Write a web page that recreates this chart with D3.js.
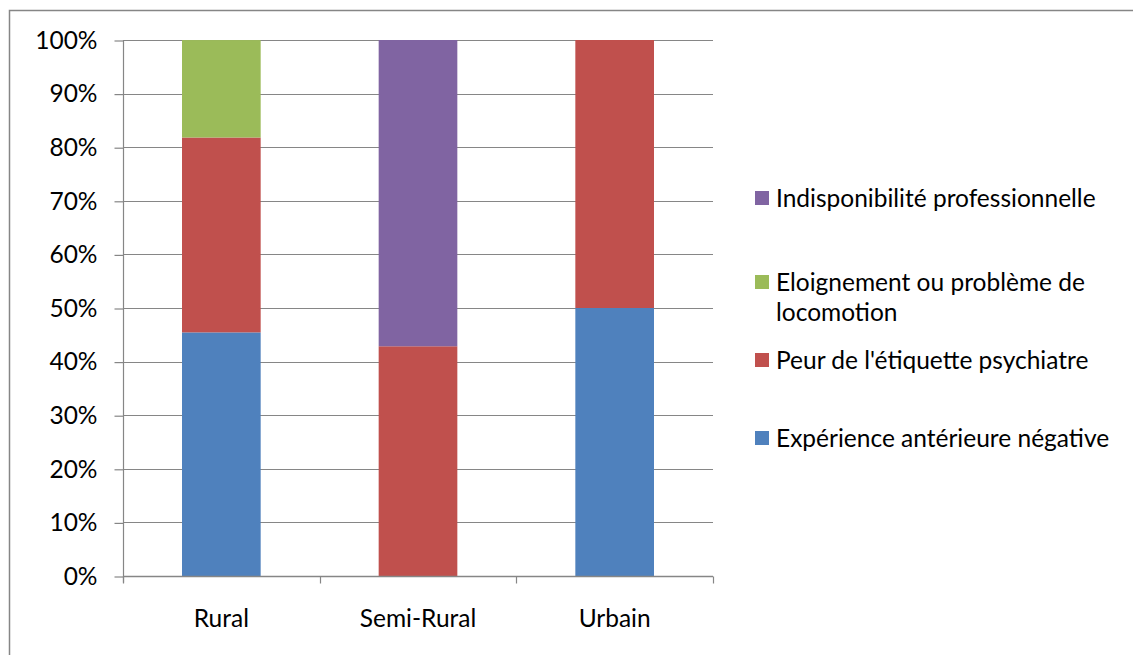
<!DOCTYPE html>
<html>
<head>
<meta charset="utf-8">
<script src="https://cdn.jsdelivr.net/npm/d3@7"></script>
<style>
  html, body { margin: 0; padding: 0; background: #fff; }
  svg { display: block; }
  text { font-family: Lato, "Open Sans", sans-serif; fill: #000; }
</style>
</head>
<body>
<svg id="chart" width="1133" height="655"></svg>
<script>
// ---- data ----
const categories = ["Rural", "Semi-Rural", "Urbain"];
const experienceNegative = [45.45, 0, 50];
const peurEtiquette = [36.36, 42.86, 50];
const eloignement = [18.18, 0, 0];
const indisponibilite = [0, 57.14, 0];
const yTicks = [0, 10, 20, 30, 40, 50, 60, 70, 80, 90, 100];

const seriesNames = [
  "Expérience antérieure négative",
  "Peur de l'étiquette psychiatre",
  "Eloignement ou problème de locomotion",
  "Indisponibilité professionnelle"
];
const seriesValues = [experienceNegative, peurEtiquette, eloignement, indisponibilite];
const seriesColors = ["#4F81BD", "#C0504D", "#9BBB59", "#8064A2"];

(function () {
const rows = categories.map((c, i) => {
  const r = { cat: c };
  seriesNames.forEach((n, k) => r[n] = seriesValues[k][i]);
  return r;
});

const svg = d3.select("#chart");
const FS = 24.5;
const gray = "#868686";

svg.append("rect").attr("x", 0).attr("y", 0).attr("width", 1133).attr("height", 655).attr("fill", "#fff");
// outer frame (top + left visible)
svg.append("rect").attr("x", 9.5).attr("y", 10.5).attr("width", 1200).attr("height", 700)
  .attr("fill", "none").attr("stroke", gray).attr("stroke-width", 1.5);

const pLeft = 123, pRight = 713, pTop = 40, pBottom = 576;
const y = d3.scaleLinear().domain([0, 100]).range([pBottom, pTop]);
const xAxisScale = d3.scaleBand().domain(categories).range([pLeft, pRight]).padding(0);
const xBar = d3.scaleBand().domain(categories).range([pLeft, pRight]).paddingInner(0.6).paddingOuter(0.3);

// gridlines
svg.append("g").selectAll("line").data(yTicks).join("line")
  .attr("x1", pLeft).attr("x2", pRight)
  .attr("y1", d => Math.round(y(d)) + 0.5).attr("y2", d => Math.round(y(d)) + 0.5)
  .attr("stroke", gray).attr("stroke-width", 1.2);

// y axis
const yAxis = d3.axisLeft(y).tickValues(yTicks).tickFormat(d => d + "%").tickSize(9).tickPadding(17);
const gy = svg.append("g").attr("transform", `translate(${pLeft + 0.5},0.5)`).call(yAxis);
gy.select(".domain").attr("stroke", gray).attr("stroke-width", 1.2).attr("d", `M0,${pBottom + 6}V${pTop - 0.5}`);
gy.selectAll(".tick line").attr("stroke", gray).attr("stroke-width", 1.2);
gy.selectAll(".tick text").style("font-size", FS + "px").style("font-family", "Lato").attr("fill", "#000");

// stacked bars
const stack = d3.stack().keys(seriesNames);
const stacked = stack(rows);
svg.append("g").selectAll("g").data(stacked).join("g")
  .attr("fill", (d, i) => seriesColors[i])
  .selectAll("rect").data(d => d).join("rect")
  .attr("x", d => xBar(d.data.cat))
  .attr("width", xBar.bandwidth())
  .attr("y", d => y(d[1]))
  .attr("height", d => y(d[0]) - y(d[1]));

// x axis
const gx = svg.append("g").attr("transform", `translate(0,${pBottom + 0.5})`);
gx.append("line").attr("x1", pLeft).attr("x2", pRight).attr("y1", 0).attr("y2", 0)
  .attr("stroke", gray).attr("stroke-width", 1.5);
const bounds = [pLeft].concat(categories.map(c => xAxisScale(c) + xAxisScale.bandwidth()));
gx.selectAll("line.tk").data(bounds).join("line").attr("class", "tk")
  .attr("x1", d => Math.round(d) + 0.5).attr("x2", d => Math.round(d) + 0.5)
  .attr("y1", 0).attr("y2", 7).attr("stroke", gray).attr("stroke-width", 1.2);
gx.selectAll("text").data(categories).join("text")
  .attr("x", d => xAxisScale(d) + xAxisScale.bandwidth() / 2)
  .attr("y", 618 - pBottom).attr("dy", "0.35em")
  .attr("text-anchor", "middle").style("font-size", FS + "px")
  .text(d => d);

// legend
const legendItems = [
  { lines: ["Indisponibilité professionnelle"], y: 198, color: seriesColors[3] },
  { lines: ["Eloignement ou problème de", "locomotion"], y: 282, color: seriesColors[2] },
  { lines: ["Peur de l'étiquette psychiatre"], y: 360, color: seriesColors[1] },
  { lines: ["Expérience antérieure négative"], y: 438, color: seriesColors[0] }
];
const lg = svg.append("g");
legendItems.forEach(it => {
  lg.append("rect").attr("x", 755).attr("y", it.y - 7).attr("width", 14).attr("height", 14).attr("fill", it.color);
  const t = lg.append("text").attr("x", 776).attr("y", it.y).style("font-size", FS + "px");
  it.lines.forEach((l, i) => {
    t.append("tspan").attr("x", 776).attr("dy", i === 0 ? "0.35em" : 30).text(l);
  });
});
})();
</script>
</body>
</html>
